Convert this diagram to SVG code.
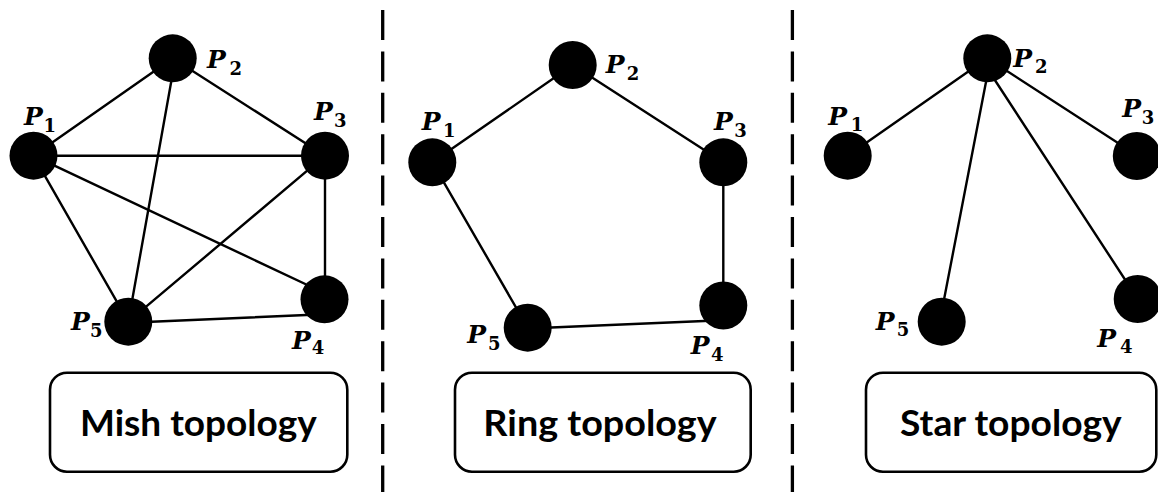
<svg xmlns="http://www.w3.org/2000/svg" width="1158" height="492" viewBox="0 0 1158 492">
  <style>
    .edge { stroke: #000; stroke-width: 2.4; fill: none; stroke-linecap: round; }
    .node { fill: #000; }
    .lbl { font-family: "DejaVu Serif", "Liberation Serif", serif; font-weight: bold; font-style: italic; font-size: 25px; fill: #000; }
    .sub { font-family: "DejaVu Serif", "Liberation Serif", serif; font-weight: bold; font-style: normal; font-size: 18px; fill: #000; }
    .sep { stroke: #000; stroke-width: 3.3; stroke-dasharray: 30 11.4; fill: none; }
    .box { fill: #fff; stroke: #000; stroke-width: 2.6; }
    .title { font-family: Lato, "Open Sans", "Liberation Sans", sans-serif; font-weight: bold; font-size: 37px; fill: #000; }
  </style>
  <rect width="1158" height="492" fill="#fff"/>

  <g id="separators">
    <line class="sep" x1="382.7" y1="10" x2="382.7" y2="492"/>
    <line class="sep" x1="792.4" y1="10" x2="792.4" y2="492"/>
  </g>

  <g id="connectors">
    <!-- Mesh -->
    <line class="edge" x1="33.3" y1="155.7" x2="172.7" y2="58.3"/>
    <line class="edge" x1="172.7" y1="58.3" x2="325" y2="155.7"/>
    <line class="edge" x1="33.3" y1="155.7" x2="325" y2="155.7"/>
    <line class="edge" x1="173.3" y1="70" x2="128.3" y2="321.7"/>
    <line class="edge" x1="325" y1="155.7" x2="128.3" y2="321.7"/>
    <line class="edge" x1="33.3" y1="155.7" x2="128.3" y2="321.7"/>
    <line class="edge" x1="33.3" y1="155.7" x2="318" y2="290"/>
    <line class="edge" x1="325" y1="155.7" x2="325" y2="299.3"/>
    <line class="edge" x1="128.3" y1="322.7" x2="318" y2="314.5"/>
    <!-- Ring -->
    <line class="edge" x1="432.3" y1="162.3" x2="572.7" y2="65"/>
    <line class="edge" x1="572.7" y1="65" x2="723.3" y2="162.3"/>
    <line class="edge" x1="723.3" y1="162.3" x2="723.3" y2="306"/>
    <line class="edge" x1="527.7" y1="328.5" x2="716" y2="320.5"/>
    <line class="edge" x1="527.7" y1="327.7" x2="432.3" y2="162.3"/>
    <!-- Star -->
    <line class="edge" x1="987.3" y1="58.3" x2="847.7" y2="155.7"/>
    <line class="edge" x1="987.3" y1="58.3" x2="1137.7" y2="155.7"/>
    <line class="edge" x1="988.3" y1="70" x2="942" y2="310"/>
    <line class="edge" x1="988.3" y1="70" x2="1137.7" y2="299"/>
  </g>

  <!-- Mesh topology nodes -->
  <g id="mesh-p1"><circle class="node" cx="33.5" cy="155.7" r="24"/><text class="lbl" x="24" y="125">P</text><text class="sub" x="43.5" y="131.5">1</text></g>
  <g id="mesh-p2"><circle class="node" cx="172.7" cy="58.3" r="24"/><text class="lbl" x="207" y="68.3">P</text><text class="sub" x="229.5" y="75">2</text></g>
  <g id="mesh-p3"><circle class="node" cx="325" cy="155.7" r="24"/><text class="lbl" x="314" y="120">P</text><text class="sub" x="334" y="126.7">3</text></g>
  <g id="mesh-p4"><circle class="node" cx="324.5" cy="299.3" r="24"/><text class="lbl" x="292" y="349">P</text><text class="sub" x="311.7" y="353.5">4</text></g>
  <g id="mesh-p5"><circle class="node" cx="128.3" cy="321.7" r="24"/><text class="lbl" x="71" y="330">P</text><text class="sub" x="90" y="336.7">5</text></g>

  <!-- Ring topology nodes -->
  <g id="ring-p1"><circle class="node" cx="432.3" cy="162.3" r="24"/><text class="lbl" x="421.7" y="130">P</text><text class="sub" x="443" y="136.5">1</text></g>
  <g id="ring-p2"><circle class="node" cx="572.7" cy="65" r="24"/><text class="lbl" x="605.7" y="73.3">P</text><text class="sub" x="626.7" y="80">2</text></g>
  <g id="ring-p3"><circle class="node" cx="723.3" cy="162.3" r="24"/><text class="lbl" x="714" y="130">P</text><text class="sub" x="734.3" y="136.5">3</text></g>
  <g id="ring-p4"><circle class="node" cx="723.3" cy="305.5" r="24"/><text class="lbl" x="690.7" y="354">P</text><text class="sub" x="711" y="361">4</text></g>
  <g id="ring-p5"><circle class="node" cx="527.7" cy="327.7" r="24"/><text class="lbl" x="467.3" y="343">P</text><text class="sub" x="488" y="350">5</text></g>

  <!-- Star topology nodes -->
  <g id="star-p1"><circle class="node" cx="847.7" cy="155.7" r="24"/><text class="lbl" x="828.3" y="125">P</text><text class="sub" x="850.7" y="130.5">1</text></g>
  <g id="star-p2"><circle class="node" cx="987.3" cy="58.3" r="24"/><text class="lbl" x="1013.3" y="66.7">P</text><text class="sub" x="1035" y="73.3">2</text></g>
  <g id="star-p3"><circle class="node" cx="1136.8" cy="156" r="24"/><text class="lbl" x="1122.3" y="117.3">P</text><text class="sub" x="1141.7" y="123.5">3</text></g>
  <g id="star-p4"><circle class="node" cx="1137.7" cy="299" r="24"/><text class="lbl" x="1097.3" y="346.7">P</text><text class="sub" x="1120" y="353">4</text></g>
  <g id="star-p5"><circle class="node" cx="941.7" cy="321.7" r="24"/><text class="lbl" x="875.7" y="330">P</text><text class="sub" x="896.7" y="335.5">5</text></g>

  <!-- Caption boxes -->
  <g id="caption-mesh">
    <rect class="box" x="50" y="372.7" width="297.3" height="99" rx="17" ry="17"/>
    <text class="title" x="80" y="436" textLength="236.7" lengthAdjust="spacingAndGlyphs">Mish topology</text>
  </g>
  <g id="caption-ring">
    <rect class="box" x="455" y="372.7" width="295.7" height="99" rx="17" ry="17"/>
    <text class="title" x="483.3" y="436" textLength="233.4" lengthAdjust="spacingAndGlyphs">Ring topology</text>
  </g>
  <g id="caption-star">
    <rect class="box" x="866" y="372.7" width="290.3" height="99" rx="17" ry="17"/>
    <text class="title" x="900" y="436" textLength="221.7" lengthAdjust="spacingAndGlyphs">Star topology</text>
  </g>
</svg>
